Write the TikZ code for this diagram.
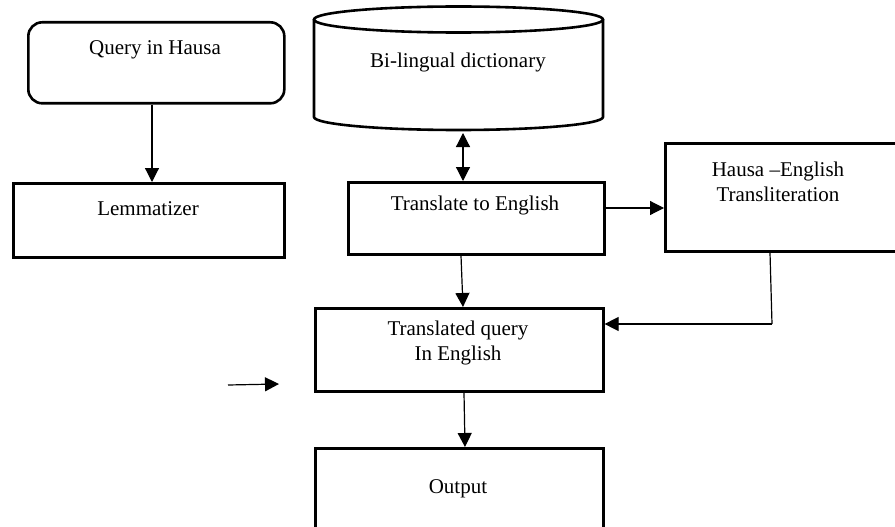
\documentclass[tikz,border=0pt]{standalone}
\usepackage{fontspec}
\setmainfont{Liberation Serif}
\usetikzlibrary{arrows.meta,calc}
\tikzset{
  box/.style={draw, line width=2.6pt, rectangle, inner sep=0pt, anchor=north west},
  rbox/.style={box, rounded corners=14pt},
  conn/.style={line width=1.2pt, -{Triangle[length=14pt,width=14pt]}},
  dconn/.style={line width=1.2pt, {Triangle[length=14pt,width=14pt]}-{Triangle[length=14pt,width=14pt]}},
  lbl/.style={font=\fontsize{21}{25}\selectfont, align=center, inner sep=0pt}
}
\begin{document}
\begin{tikzpicture}[x=1pt,y=-1pt]
\useasboundingbox (0,0) rectangle (895,527);
\clip (0,0) rectangle (895,527);
\fill[white] (0,0) rectangle (895,527);
% boxes
\node[rbox, minimum width=256pt, minimum height=81pt] (q) at (27,21) {};
\node[box, minimum width=271pt, minimum height=74pt] (lem) at (12,182) {};
\node[box, minimum width=256pt, minimum height=72pt] (tr) at (347,181) {};
\node[box, minimum width=280pt, minimum height=108pt] (hau) at (664,142) {};
\node[box, minimum width=288pt, minimum height=83pt] (tq) at (314,307) {};
\node[box, minimum width=288pt, minimum height=100pt] (out) at (314,447) {};
% cylinder
\draw[line width=2.6pt] (314,19.5) -- (314,117) arc[start angle=180, end angle=360, x radius=144.5pt, y radius=13pt] -- (603,19.5);
\draw[line width=2.6pt] (458.5,19.5) ellipse[x radius=144.5pt, y radius=13pt];
\coordinate (dictb) at (463,133);
% texts
\node[lbl] (tq1) at (155,50) {Query in Hausa};
\node[lbl] (tl) at (148,209) {Lemmatizer};
\node[lbl] (td) at (458,62) {Bi-lingual dictionary};
\node[lbl] (tt) at (475,205) {Translate to English};
\node[lbl] (th) at (778,182) {Hausa –English\\Transliteration};
\node[lbl] (ttq) at (458,343) {Translated query\\In English};
\node[lbl] (to) at (458,489) {Output};
% connectors
\draw[conn] (152,0 |- q.south) -- (152,0 |- lem.north);
\draw[dconn] (dictb) -- (463,0 |- tr.north);
\draw[conn] (tr.east |- 0,208) -- (hau.west |- 0,208);
\draw[conn] (461,0 |- tr.south) -- (463,0 |- tq.north);
\draw[line width=1.2pt] (770,0 |- hau.south) -- (772,324) coordinate (hc);
\draw[conn] (hc) -- (tq.east |- hc);
\draw[conn] (464,0 |- tq.south) -- (465,0 |- out.north);
\coordinate (sa) at (228,385);
\coordinate (sb) at (279,384);
\draw[conn] (sa) -- (sb);
\end{tikzpicture}
\end{document}
